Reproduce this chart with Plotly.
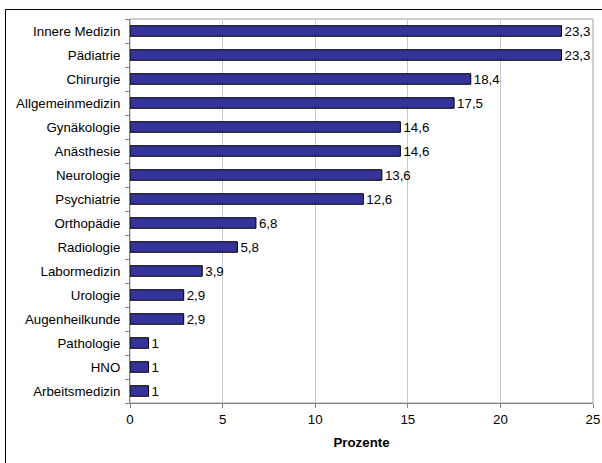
import plotly.graph_objects as go

categories = ["Innere Medizin", "Pädiatrie", "Chirurgie", "Allgemeinmedizin", "Gynäkologie",
              "Anästhesie", "Neurologie", "Psychiatrie", "Orthopädie", "Radiologie",
              "Labormedizin", "Urologie", "Augenheilkunde", "Pathologie", "HNO", "Arbeitsmedizin"]
values = [23.3, 23.3, 18.4, 17.5, 14.6, 14.6, 13.6, 12.6, 6.8, 5.8, 3.9, 2.9, 2.9, 1, 1, 1]
labels = [str(v).replace(".", ",") if v != int(v) else str(int(v)) for v in values]
x_ticks = [0, 5, 10, 15, 20, 25]

FS = 13.3

fig = go.Figure(go.Bar(
    y=categories, x=values, orientation="h",
    marker=dict(color="#333399", line=dict(color="black", width=1)),
    text=labels, textposition="outside", cliponaxis=False, constraintext="none",
    textfont=dict(family="Liberation Sans, Arial", size=FS, color="black"),
))

L, R, T, B = 130, 9, 19, 60
W, H = 602, 463
pw, ph = W - L - R, H - T - B

fig.update_layout(
    template="none",
    width=W, height=H,
    margin=dict(l=L, r=R, t=T, b=B, pad=0, autoexpand=False),
    paper_bgcolor="white", plot_bgcolor="white",
    bargap=0.56, showlegend=False,
    uniformtext=dict(minsize=FS, mode="show"),
    font=dict(family="Liberation Sans, Arial", size=FS, color="black"),
    xaxis=dict(range=[0, 25], tickvals=x_ticks, ticks="outside", ticklen=4, tickcolor="#808080",
               showgrid=True, gridcolor="#c8c8c8", gridwidth=1, zeroline=False,
               showline=True, linecolor="#808080", linewidth=1, automargin=False,
               title=dict(text="<b>Prozente</b>", font=dict(size=FS), standoff=11),
               tickfont=dict(size=FS), fixedrange=True),
    yaxis=dict(categoryorder="array", categoryarray=categories[::-1], range=[-0.5, 15.5],
               ticks="outside", ticklen=4, tickcolor="#808080", tickson="boundaries",
               showline=True, linecolor="#808080", linewidth=1, showgrid=False, zeroline=False,
               automargin=False, ticklabelstandoff=6, tickfont=dict(size=FS)),
    shapes=[
        dict(type="rect", xref="paper", yref="paper", x0=0, x1=1, y0=0, y1=1,
             line=dict(color="#a0a0a0", width=1), layer="below"),
        dict(type="rect", xref="paper", yref="paper",
             x0=(5.5 - L) / pw, x1=(W + 5 - L) / pw,
             y0=(T + ph - (H + 5)) / ph, y1=(T + ph - 9.5) / ph,
             line=dict(color="black", width=1)),
    ],
)

fig.write_html("out.html")
